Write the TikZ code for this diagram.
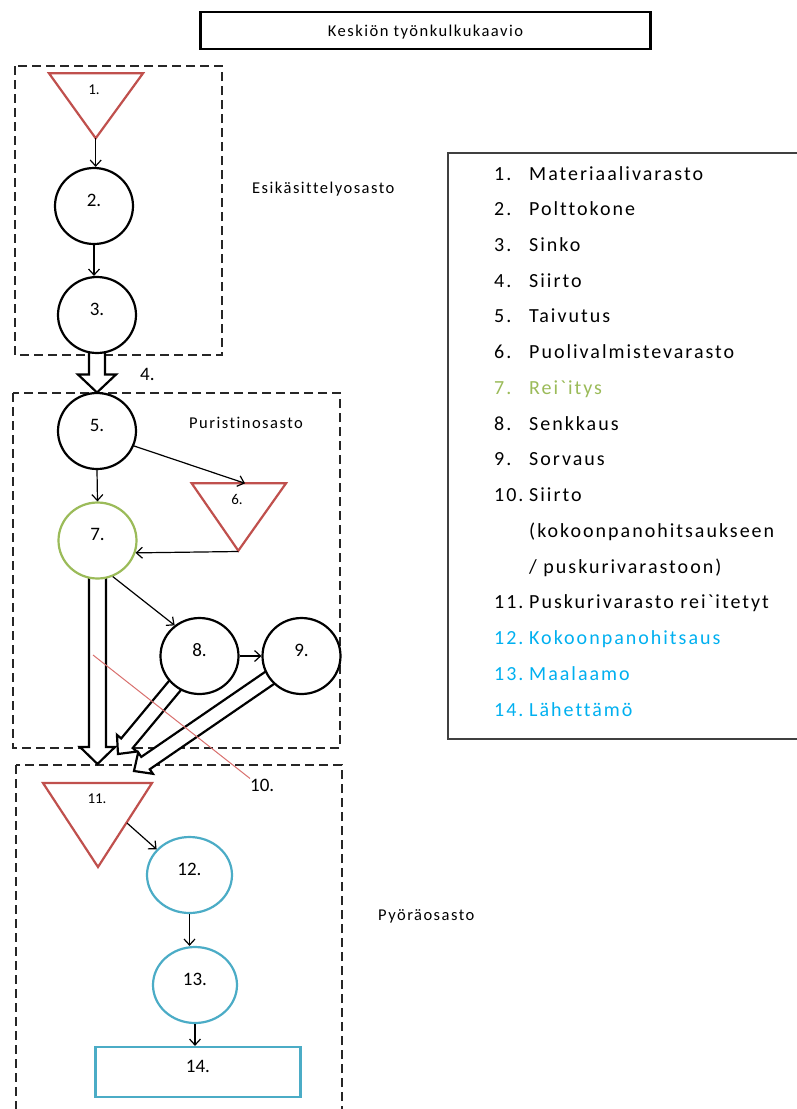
\documentclass[tikz,border=0pt]{standalone}
\usepackage{fontspec}
\setmainfont{Carlito}
\newfontfamily\legendfont{Carlito}[LetterSpace=10,Ligatures={TeXOff,CommonOff}]
\newfontfamily\capfont{Carlito}[LetterSpace=9,Ligatures=CommonOff]
\usetikzlibrary{arrows.meta,calc,shapes.geometric}

\definecolor{wfred}{HTML}{C0504D}
\definecolor{wfgreen}{HTML}{9BBB59}
\definecolor{wfblue}{HTML}{4BACC6}
\definecolor{legblue}{HTML}{00B0F0}
\definecolor{callout}{HTML}{D9706E}

% hollow block arrow: start, tip, shaft half width, head half width, head length
\newcommand{\hollowarrow}[5]{%
  \coordinate (hb) at ($(#2)!#5!(#1)$);
  \draw[arrowbody] ($(#1)!#3!90:(#2)$) -- ($(hb)!#3!90:(#2)$) -- ($(hb)!#4!90:(#2)$)
    -- (#2) -- ($(hb)!#4!-90:(#2)$) -- ($(hb)!#3!-90:(#2)$) -- ($(#1)!#3!-90:(#2)$) -- cycle;}

\begin{document}
\begin{tikzpicture}[x=1pt,y=-1pt,
  station/.style={draw, fill=white, line width=2.2pt, ellipse, minimum width=78pt,
    minimum height=76pt, inner sep=0pt, font=\fontsize{19}{22}\selectfont,
    text height=12pt, text depth=12pt},
  stock/.style={draw=wfred, line width=2.2pt, line join=miter},
  stocklabel/.style={anchor=base, inner sep=0pt, font=\fontsize{15}{18}\selectfont},
  flow/.style={line width=1.2pt, -{Straight Barb[length=6pt,width=11pt]}},
  zone/.style={draw=black!85, line width=1.3pt, dash pattern=on 9pt off 5pt},
  arrowbody/.style={draw=black, line width=2.2pt, fill=white, line join=miter},
  caption/.style={anchor=base west, inner sep=0pt, font=\fontsize{16.5}{19}\capfont},
  legnum/.style={anchor=base west, inner sep=0pt, font=\fontsize{20}{24}\legendfont},
  legtext/.style={anchor=base west, inner sep=0pt, font=\fontsize{20}{24}\legendfont},
]
\useasboundingbox (0,0) rectangle (797,1109);
\fill[white] (0,0) rectangle (797,1109);

% title
\node[draw, line width=2.5pt, minimum width=450pt, minimum height=37pt, inner sep=0pt,
  text height=11.5pt, text depth=0pt, font=\fontsize{16.5}{19}\capfont] (title) at (425.5,30.5)
  {Keskiön työnkulkukaavio};

% department zones
\draw[zone] (15,66) rectangle (222,355);
\draw[zone] (13,393) rectangle (340,748);
\draw[zone] (16,765) rectangle (342,1120);
\node[caption] (zone1) at (252,193) {Esikäsittelyosasto};
\node[caption] (zone2) at (189,428) {Puristinosasto};
\node[caption] (zone3) at (378,920) {Pyöräosasto};

% storage triangles
\draw[stock] (49,73.3) -- (143,73.3) -- (95.7,138.3) -- cycle;
\coordinate (t1tip) at (95.7,138.3);
\node[stocklabel] (t1) at (94,94) {1.};

\draw[stock] (191.7,483.3) -- (286,483.3) -- (238.3,550.7) -- cycle;
\coordinate (t6in) at (245,483.3);
\coordinate (t6tip) at (238.3,551.5);
\node[stocklabel] (t6) at (237,504) {6.};

\draw[stock] (43,783) -- (152,783) -- (98,867) -- cycle;
\coordinate (t11out) at (127,823);
\node[stocklabel] (t11) at (97,803) {11.};

% block arrow tips
\coordinate (tip10) at (97.5,764);
\coordinate (tip8) at (118,754);
\coordinate (tip9) at (134,771);

% stations (centres used as block arrow tails)
\coordinate (c3c) at (97,315);
\coordinate (c7c) at (97.5,540.5);
\coordinate (c8c) at (199.5,656);
\coordinate (c9c) at (301.5,656);
\coordinate (c5top) at (97,392.5);

% block arrows (drawn under the stations)
\hollowarrow{c3c}{c5top}{8pt}{19pt}{18pt}
\hollowarrow{c7c}{tip10}{8.5pt}{17.5pt}{17pt}
\hollowarrow{c9c}{tip9}{7.5pt}{13pt}{14pt}
\hollowarrow{c8c}{tip8}{7.5pt}{13pt}{14pt}

\node[station] (c2) at (94,206) {2.};
\node[station] (c3) at (c3c) {3.};
\node[station] (c5) at (97,431) {5.};
\node[station, draw=wfgreen] (c7) at (c7c) {7.};
\node[station] (c8) at (c8c) {8.};
\node[station] (c9) at (c9c) {9.};
\node[station, draw=wfblue, minimum width=85pt] (c12) at (189.5,875) {12.};
\node[station, draw=wfblue, minimum width=84pt] (c13) at (195,985) {13.};
\node[draw=wfblue, line width=2.2pt, minimum width=205pt, minimum height=50pt, inner sep=0pt,
  text height=12pt, text depth=12pt, font=\fontsize{19}{22}\selectfont] (r14) at (198,1072) {14.};

\node[anchor=base west, inner sep=0pt, font=\fontsize{19}{22}\selectfont] (l4) at (140,380) {4.};

% material flow
\draw[flow] (t1tip) -- (t1tip |- c2.north);
\draw[flow] (c2.south) -- (c2.south |- c3.north);
\draw[flow] (c5.south) -- (c7.north);
\draw[flow] (c5.-22) -- (t6in);
\draw[flow] (t6tip) -- (c7.-18);
\draw[flow] (c7.-67) -- (c8.129);
\draw[flow] (c8.east) -- (c9.west);
\draw[flow] (t11out) -- (c12.142);
\draw[flow] (c12.south) -- (c12.south |- c13.north);
\draw[flow] (c13.south) -- (c13.south |- r14.north);

% callout for transfer 10
\coordinate (r10) at (93,655);
\node[anchor=base west, inner sep=0pt, font=\fontsize{19}{22}\selectfont] (l10) at (250,791) {10.};
\draw[callout, line width=1pt] (r10) -- (l10.north west);

% legend
\draw[line width=1.5pt, draw=black!75] (448,153) rectangle (820,739);
\node[legnum] (n1) at (494,180.0) {1.};   \node[legtext] (e1) at (529,180.0) {Materiaalivarasto};
\node[legnum] (n2) at (494,215.7) {2.};   \node[legtext] (e2) at (529,215.7) {Polttokone};
\node[legnum] (n3) at (494,251.5) {3.};   \node[legtext] (e3) at (529,251.5) {Sinko};
\node[legnum] (n4) at (494,287.2) {4.};   \node[legtext] (e4) at (529,287.2) {Siirto};
\node[legnum] (n5) at (494,322.9) {5.};   \node[legtext] (e5) at (529,322.9) {Taivutus};
\node[legnum] (n6) at (494,358.7) {6.};   \node[legtext] (e6) at (529,358.7) {Puolivalmistevarasto};
\node[legnum, text=wfgreen] (n7) at (494,394.4) {7.};
\node[legtext, text=wfgreen] (e7) at (529,394.4) {Rei`itys};
\node[legnum] (n8) at (494,430.1) {8.};   \node[legtext] (e8) at (529,430.1) {Senkkaus};
\node[legnum] (n9) at (494,465.8) {9.};   \node[legtext] (e9) at (529,465.8) {Sorvaus};
\node[legnum] (n10) at (494,501.6) {10.}; \node[legtext] (e10) at (529,501.6) {Siirto};
\node[legtext] (e10b) at (529,537.3) {(kokoonpanohitsaukseen};
\node[legtext] (e10c) at (529,573.0) {/ puskurivarastoon)};
\node[legnum] (n11) at (494,608.8) {11.}; \node[legtext] (e11) at (529,608.8) {Puskurivarasto rei`itetyt};
\node[legnum, text=legblue] (n12) at (494,644.5) {12.};
\node[legtext, text=legblue] (e12) at (529,644.5) {Kokoonpanohitsaus};
\node[legnum, text=legblue] (n13) at (494,680.2) {13.};
\node[legtext, text=legblue] (e13) at (529,680.2) {Maalaamo};
\node[legnum, text=legblue] (n14) at (494,716.0) {14.};
\node[legtext, text=legblue] (e14) at (529,716.0) {Lähettämö};
\end{tikzpicture}
\end{document}
